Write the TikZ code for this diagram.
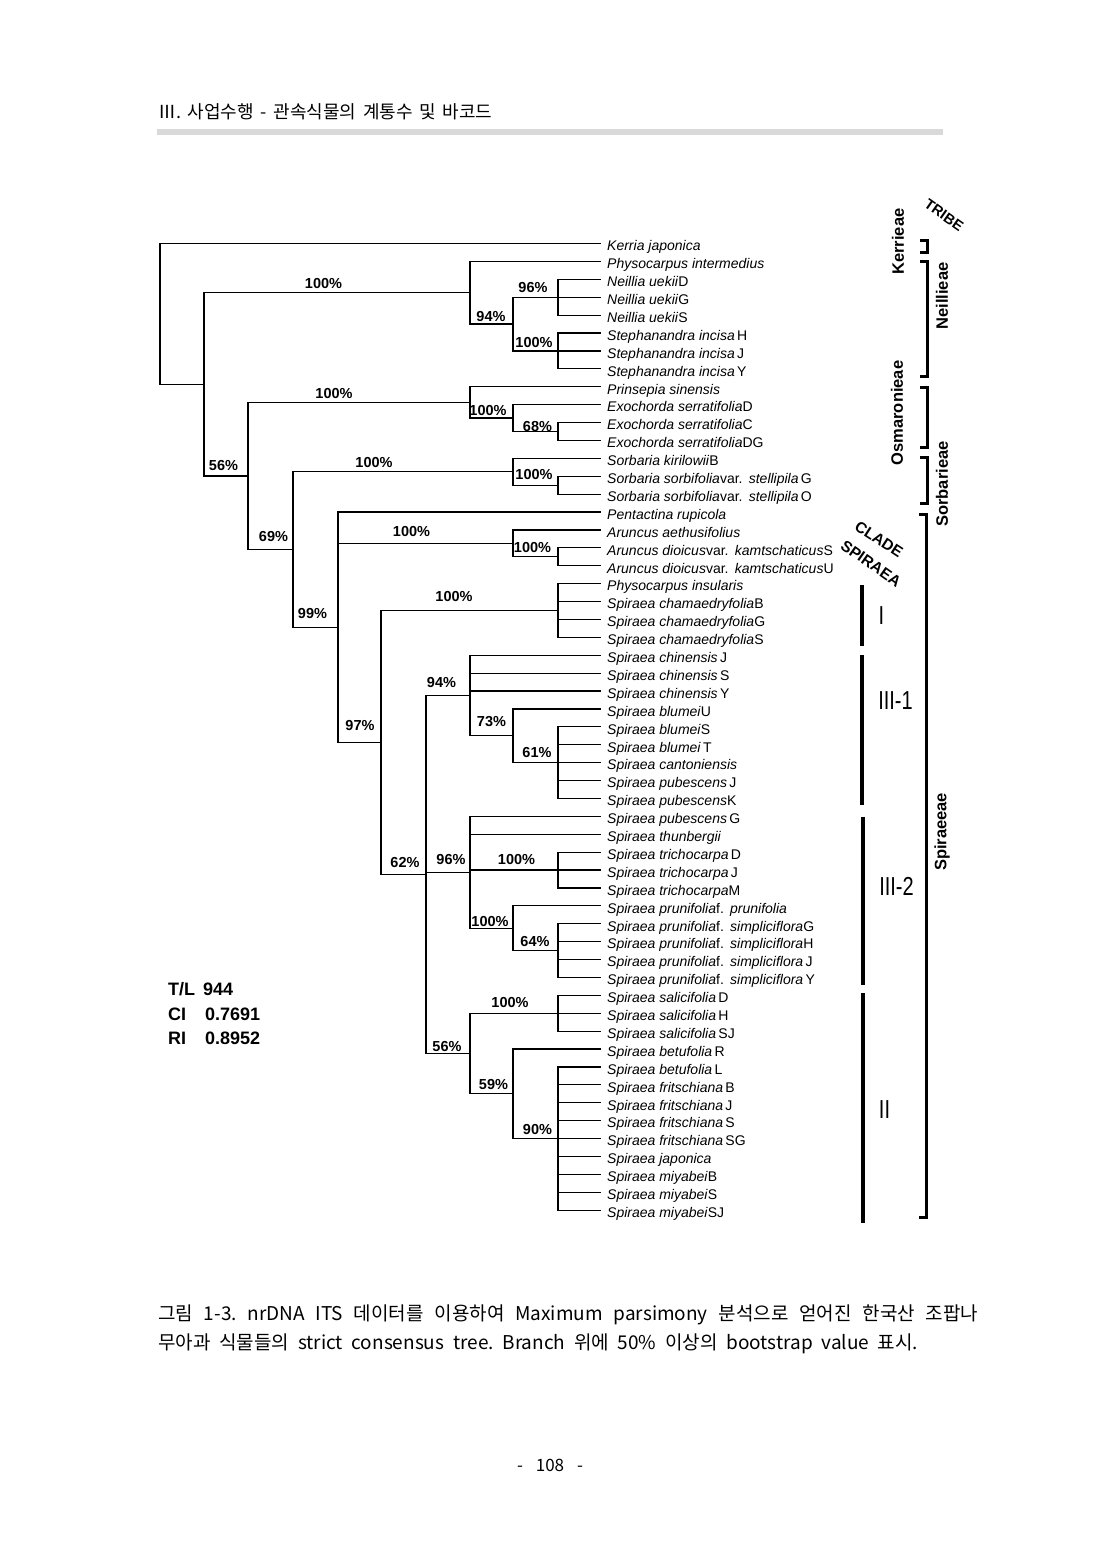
\documentclass[tikz,border=0pt]{standalone}
\usepackage{fontspec}
\setmainfont{Liberation Sans}
\newfontfamily\kr{Noto Sans CJK KR}
\definecolor{rulegray}{RGB}{217,217,217}
\frenchspacing
\begin{document}
\begin{tikzpicture}[x=1pt,y=-1pt,
  tree/.style={line width=1.2pt},
  leaf/.style={anchor=base west,inner sep=0pt,font=\fontsize{14}{16}\selectfont},
  bs/.style={inner sep=0pt,font=\bfseries\fontsize{14.5}{16}\selectfont},
  tribelab/.style={inner sep=0pt,rotate=90,font=\bfseries\fontsize{16.5}{18}\selectfont},
  clabel/.style={inner sep=0pt,font=\fontsize{20}{22}\selectfont},
  bar/.style={line width=4pt},
  brk/.style={line width=3pt},
  stat/.style={anchor=base west,inner sep=0pt,font=\bfseries\fontsize{18}{20}\selectfont},
  captext/.style={anchor=base west,inner sep=0pt,font=\kr\fontsize{19}{22}\selectfont}]
\useasboundingbox (0,0) rectangle (1100,1554);
\fill[white] (0,0) rectangle (1100,1554);
% header
\node[anchor=base west,inner sep=0pt,font=\kr\fontsize{18}{20}\selectfont] (head) at (158,119) {\makebox[334pt][s]{Ⅲ. 사업수행 - 관속식물의 계통수 및 바코드}};
\fill[rulegray] (157,129) rectangle (943,135);
% leaves
\foreach \t [count=\i] in {
{\textit{Kerria japonica}},
{\textit{Physocarpus intermedius}},
{\textit{Neillia uekii}D},
{\textit{Neillia uekii}G},
{\textit{Neillia uekii}S},
{\textit{Stephanandra incisa}\,H},
{\textit{Stephanandra incisa}\,J},
{\textit{Stephanandra incisa}\,Y},
{\textit{Prinsepia sinensis}},
{\textit{Exochorda serratifolia}D},
{\textit{Exochorda serratifolia}C},
{\textit{Exochorda serratifolia}DG},
{\textit{Sorbaria kirilowii}B},
{\textit{Sorbaria sorbifolia}var.\ \,\textit{stellipila}\,G},
{\textit{Sorbaria sorbifolia}var.\ \,\textit{stellipila}\,O},
{\textit{Pentactina rupicola}},
{\textit{Aruncus aethusifolius}},
{\textit{Aruncus dioicus}var.\ \,\textit{kamtschaticus}S},
{\textit{Aruncus dioicus}var.\ \,\textit{kamtschaticus}U},
{\textit{Physocarpus insularis}},
{\textit{Spiraea chamaedryfolia}B},
{\textit{Spiraea chamaedryfolia}G},
{\textit{Spiraea chamaedryfolia}S},
{\textit{Spiraea chinensis}\,J},
{\textit{Spiraea chinensis}\,S},
{\textit{Spiraea chinensis}\,Y},
{\textit{Spiraea blumei}U},
{\textit{Spiraea blumei}S},
{\textit{Spiraea blumei}\,T},
{\textit{Spiraea cantoniensis}},
{\textit{Spiraea pubescens}\,J},
{\textit{Spiraea pubescens}K},
{\textit{Spiraea pubescens}\,G},
{\textit{Spiraea thunbergii}},
{\textit{Spiraea trichocarpa}\,D},
{\textit{Spiraea trichocarpa}\,J},
{\textit{Spiraea trichocarpa}M},
{\textit{Spiraea prunifolia}f.\ \,\textit{prunifolia}},
{\textit{Spiraea prunifolia}f.\ \,\textit{simpliciflora}G},
{\textit{Spiraea prunifolia}f.\ \,\textit{simpliciflora}H},
{\textit{Spiraea prunifolia}f.\ \,\textit{simpliciflora}\,J},
{\textit{Spiraea prunifolia}f.\ \,\textit{simpliciflora}\,Y},
{\textit{Spiraea salicifolia}\,D},
{\textit{Spiraea salicifolia}\,H},
{\textit{Spiraea salicifolia}\,SJ},
{\textit{Spiraea betufolia}\,R},
{\textit{Spiraea betufolia}\,L},
{\textit{Spiraea fritschiana}\,B},
{\textit{Spiraea fritschiana}\,J},
{\textit{Spiraea fritschiana}\,S},
{\textit{Spiraea fritschiana}\,SG},
{\textit{Spiraea japonica}},
{\textit{Spiraea miyabei}B},
{\textit{Spiraea miyabei}S},
{\textit{Spiraea miyabei}SJ}}{
  \pgfmathsetmacro\yy{243.5+(\i-1)*17.9}
  \coordinate (L\i) at (601,\yy);
  \node[leaf] (t\i) at (607,\yy+7.3) {\t};
}
% internal nodes
\coordinate (nR) at (160,313.9);
\coordinate (nA) at (204,384.3);
\coordinate (nNei) at (470,292.7);
\coordinate (n94a) at (513,324.05);
\coordinate (n96) at (558,297.2);
\coordinate (nSte) at (558,350.9);
\coordinate (nB) at (248,475.9);
\coordinate (nOsm) at (470,402.35);
\coordinate (nExo) at (513,418.0);
\coordinate (n68) at (558,431.45);
\coordinate (nC) at (293,549.5);
\coordinate (nSor) at (513,471.7);
\coordinate (nSorSub) at (558,485.15);
\coordinate (nD) at (338,627.25);
\coordinate (nAr) at (513,543.3);
\coordinate (nArSub) at (558,556.75);
\coordinate (nE) at (381,742.5);
\coordinate (nSI) at (558,610.45);
\coordinate (nF) at (426,874.5);
\coordinate (n94b) at (470,695.5);
\coordinate (n73) at (513,735.75);
\coordinate (n61) at (558,762.6);
\coordinate (n96b) at (470,872.25);
\coordinate (nTri) at (558,870.0);
\coordinate (n100p) at (513,928.2);
\coordinate (n64) at (558,950.55);
\coordinate (n56b) at (470,1053.5);
\coordinate (nSal) at (558,1013.2);
\coordinate (n59) at (513,1093.75);
\coordinate (n90) at (558,1138.5);
% branches
\foreach \p/\c in {nR/L1,nR/nA,nA/nNei,nA/nB,nNei/L2,nNei/n94a,n94a/n96,n94a/nSte,
 n96/L3,n96/L4,n96/L5,nSte/L6,nSte/L7,nSte/L8,nB/nOsm,nB/nC,nOsm/L9,nOsm/nExo,
 nExo/L10,nExo/n68,n68/L11,n68/L12,nC/nSor,nC/nD,nSor/L13,nSor/nSorSub,
 nSorSub/L14,nSorSub/L15,nD/L16,nD/nAr,nD/nE,nAr/L17,nAr/nArSub,nArSub/L18,nArSub/L19,
 nE/nSI,nE/nF,nSI/L20,nSI/L21,nSI/L22,nSI/L23,nF/n94b,nF/n96b,nF/n56b,
 n94b/L24,n94b/L25,n94b/L26,n94b/n73,n73/L27,n73/n61,n61/L28,n61/L29,n61/L30,n61/L31,n61/L32,
 n96b/L33,n96b/L34,n96b/nTri,n96b/n100p,nTri/L35,nTri/L36,nTri/L37,n100p/L38,n100p/n64,
 n64/L39,n64/L40,n64/L41,n64/L42,n56b/nSal,n56b/n59,nSal/L43,nSal/L44,nSal/L45,
 n59/L46,n59/n90,n90/L47,n90/L48,n90/L49,n90/L50,n90/L51,n90/L52,n90/L53,n90/L54,n90/L55}
 {\draw[tree] (\p) |- (\c);}
% bootstrap values
\node[bs] (b1) at (323.5,284) {100\%};
\node[bs] (b2) at (533,288) {96\%};
\node[bs] (b3) at (491,317) {94\%};
\node[bs] (b4) at (534,342.5) {100\%};
\node[bs] (b5) at (334,394) {100\%};
\node[bs] (b6) at (488,411) {100\%};
\node[bs] (b7) at (537.5,426.5) {68\%};
\node[bs] (b8) at (374,462.5) {100\%};
\node[bs] (b9) at (534,475) {100\%};
\node[bs] (b10) at (223.5,466) {56\%};
\node[bs] (b11) at (273.5,537) {69\%};
\node[bs] (b12) at (411.5,532) {100\%};
\node[bs] (b13) at (532.5,548) {100\%};
\node[bs] (b14) at (312.5,614) {99\%};
\node[bs] (b15) at (454,597) {100\%};
\node[bs] (b16) at (360,726) {97\%};
\node[bs] (b17) at (441.5,682.5) {94\%};
\node[bs] (b18) at (491.5,721.5) {73\%};
\node[bs] (b19) at (537,752.5) {61\%};
\node[bs] (b20) at (405,862.5) {62\%};
\node[bs] (b21) at (451,859) {96\%};
\node[bs] (b22) at (516.5,859) {100\%};
\node[bs] (b23) at (490,921) {100\%};
\node[bs] (b24) at (535,941.5) {64\%};
\node[bs] (b25) at (510,1002.5) {100\%};
\node[bs] (b26) at (447,1046) {56\%};
\node[bs] (b27) at (493.5,1084) {59\%};
\node[bs] (b28) at (537.5,1129) {90\%};
% stats
\node[stat] (tl) at (168,995) {T/L};
\node[stat] (tlv) at (203,995) {944};
\node[stat] (ci) at (168,1020) {CI};
\node[stat] (civ) at (205,1020) {0.7691};
\node[stat] (ri) at (168,1044) {RI};
\node[stat] (riv) at (205,1044) {0.8952};
% clade bars
\draw[bar] (862,585) -- (862,646);
\draw[bar] (862,655) -- (862,805);
\draw[bar] (863,816.7) -- (863,985);
\draw[bar] (863,993.3) -- (863,1223);
\node[clabel] (cI) at (881.5,616) {\scalebox{1}[1.3]{I}};
\node[clabel] (cIII1) at (895.5,701) {\scalebox{1}[1.3]{III-1}};
\node[clabel] (cIII2) at (896.5,886.5) {\scalebox{1}[1.3]{III-2}};
\node[clabel] (cII) at (884.5,1110) {\scalebox{1}[1.3]{II}};
% tribe brackets
\draw[brk] (920,241) -- (927,241) -- (927,253) -- (920,253);
\draw[brk] (920,261) -- (927,261) -- (927,376) -- (920,376);
\draw[brk] (920,387) -- (927,387) -- (927,447) -- (920,447);
\draw[brk] (920,457) -- (927,457) -- (927,503) -- (920,503);
\draw[brk] (919,514) -- (926,514) -- (926,1217) -- (919,1217);
\node[tribelab] (kerr) at (898,241.5) {Kerrieae};
\node[tribelab] (neil) at (942,296) {Neillieae};
\node[tribelab] (osma) at (897,413) {Osmaronieae};
\node[tribelab] (sorb) at (942,484) {Sorbarieae};
\node[tribelab] (spir) at (942,832) {Spiraeeae};
\node[inner sep=0pt,rotate=-35,font=\bfseries\fontsize{14.5}{16}\selectfont] (tribe) at (944,215) {TRIBE};
\node[inner sep=0pt,rotate=-33,font=\bfseries\fontsize{15.5}{17}\selectfont] (clade) at (879,539.5) {CLADE};
\node[inner sep=0pt,rotate=-35,font=\bfseries\fontsize{15.5}{17}\selectfont] (spiraea) at (871,563.5) {SPIRAEA};
% caption
\node[captext] (cap1) at (158,1320) {\makebox[820pt][s]{그림 1-3. nrDNA ITS 데이터를 이용하여 Maximum parsimony 분석으로 얻어진 한국산 조팝나}};
\node[captext] (cap2) at (158,1349) {\makebox[760pt][s]{무아과 식물들의 strict consensus tree. Branch 위에 50\% 이상의 bootstrap value 표시.}};
\node[inner sep=0pt,font=\kr\fontsize{17}{19}\selectfont] (pg) at (550,1465) {\makebox[66pt][s]{- 108 -}};
\end{tikzpicture}
\end{document}
